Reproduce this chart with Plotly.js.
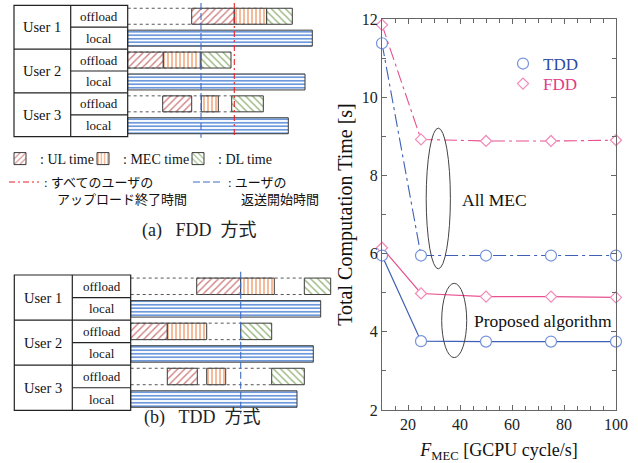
<!DOCTYPE html>
<html><head><meta charset="utf-8">
<script src="https://cdn.plot.ly/plotly-3.0.1.min.js"></script>
<style>html,body{margin:0;padding:0;background:#fff}#chart{width:638px;height:463px}</style>
</head><body><div id="chart"></div>
<script>
// ---------- Right chart data ----------
const fMec = [10, 25, 50, 75, 100];
const tddAllMec = [11.38, 5.95, 5.95, 5.95, 5.95];
const fddAllMec = [11.85, 8.92, 8.88, 8.88, 8.90];
const tddProposed = [5.95, 3.76, 3.75, 3.75, 3.75];
const fddProposed = [6.15, 4.98, 4.90, 4.90, 4.88];

// ---------- Schedule diagrams data (time units) ----------
const users = ['User 1', 'User 2', 'User 3'];
const offloadRows = [0, 2, 4];
const localRows = [1, 3, 5];
// FDD
const fddUlStart = [6.40, 0.00, 3.50];
const fddUlEnd = [10.66, 3.56, 6.40];
const fddMecStart = [10.66, 3.56, 7.36];
const fddMecEnd = [13.90, 7.33, 9.06];
const fddDlStart = [13.90, 7.33, 10.40];
const fddDlEnd = [16.46, 10.33, 13.56];
const fddLocal = [18.46, 17.73, 16.06];
const fddUploadEnd = 10.66;
const fddReturnStart = 7.33;
// TDD
const tddUlStart = [6.60, 0.00, 3.66];
const tddUlEnd = [11.00, 3.66, 6.66];
const tddMecStart = [11.00, 3.66, 7.60];
const tddMecEnd = [14.36, 7.60, 9.50];
const tddDlStart = [17.36, 11.00, 14.10];
const tddDlEnd = [20.00, 14.10, 17.36];
const tddLocal = [19.00, 18.26, 16.63];
const tddReturnStart = 11.00;

// ---------- styles ----------
const SERIF = '"Liberation Serif", "Times New Roman", serif';
const JP = '"Liberation Serif", "Noto Sans CJK JP", serif';
const TDD_LINE = '#3d5fb6', TDD_MK = '#7592dc', TDD_TXT = '#2c4ca3';
const FDD_LINE = '#e8508e', FDD_MK = '#f28ab9', FDD_TXT = '#e33a8a';
const BORDER = '#3a3a3a';
const BAR_W = 0.73;
const PAT = {
  ul: {shape: '/', fgcolor: '#cf8080', bgcolor: 'white', size: 5, solidity: 0.28},
  mec: {shape: '|', fgcolor: '#f0a070', bgcolor: 'white', size: 4, solidity: 0.35},
  dl: {shape: '\\', fgcolor: '#95b57a', bgcolor: 'white', size: 5, solidity: 0.28},
  local: {shape: '-', fgcolor: '#5e8fd8', bgcolor: 'white', size: 3.5, solidity: 0.45}
};
const diff = (a, b) => a.map((v, i) => v - b[i]);
const zeros = n => new Array(n).fill(0);

function diagramTraces(xa, ya, d, withLegend) {
  const tr = [];
  // waiting dashed lines (top & bottom of offload row, from 0 to DL start)
  const wx = [], wy = [];
  offloadRows.forEach((r, i) => {
    [-BAR_W / 2, BAR_W / 2].forEach(off => {
      wx.push(0, d.dlStart[i], null);
      wy.push(r + off, r + off, null);
    });
  });
  tr.push({type: 'scatter', mode: 'lines', x: wx, y: wy, xaxis: xa, yaxis: ya,
    line: {color: '#555', width: 1, dash: '3px,3px'}, showlegend: false, hoverinfo: 'skip'});
  const mk = (p) => ({color: 'white', pattern: p, line: {color: BORDER, width: 1}});
  tr.push({type: 'bar', orientation: 'h', xaxis: xa, yaxis: ya, y: offloadRows,
    base: d.ulStart, x: diff(d.ulEnd, d.ulStart), width: BAR_W, marker: mk(PAT.ul),
    name: ': UL time', legend: 'legend2', showlegend: withLegend, hoverinfo: 'skip'});
  tr.push({type: 'bar', orientation: 'h', xaxis: xa, yaxis: ya, y: offloadRows,
    base: d.mecStart, x: diff(d.mecEnd, d.mecStart), width: BAR_W, marker: mk(PAT.mec),
    name: ': MEC time', legend: 'legend4', showlegend: withLegend, hoverinfo: 'skip'});
  tr.push({type: 'bar', orientation: 'h', xaxis: xa, yaxis: ya, y: offloadRows,
    base: d.dlStart, x: diff(d.dlEnd, d.dlStart), width: BAR_W, marker: mk(PAT.dl),
    name: ': DL time', legend: 'legend5', showlegend: withLegend, hoverinfo: 'skip'});
  tr.push({type: 'bar', orientation: 'h', xaxis: xa, yaxis: ya, y: localRows,
    base: zeros(3), x: d.local, width: BAR_W, marker: mk(PAT.local),
    showlegend: false, hoverinfo: 'skip'});
  if (d.uploadEnd !== undefined) {
    tr.push({type: 'scatter', mode: 'lines', xaxis: xa, yaxis: ya,
      x: [d.uploadEnd, d.uploadEnd], y: d.vExtent,
      line: {color: '#e8202a', width: 1.1, dash: '6px,3px,2px,3px'},
      name: ': すべてのユーザの<br>\u3000アップロード終了時間', legend: 'legend3',
      showlegend: withLegend, hoverinfo: 'skip'});
  }
  tr.push({type: 'scatter', mode: 'lines', xaxis: xa, yaxis: ya,
    x: [d.returnStart, d.returnStart], y: d.vExtent,
    line: {color: '#3f6cc4', width: 1.1, dash: '7px,3px'},
    name: ': ユーザの<br>\u3000返送開始時間', legend: 'legend6',
    showlegend: withLegend, hoverinfo: 'skip'});
  return tr;
}

const fdd = {ulStart: fddUlStart, ulEnd: fddUlEnd, mecStart: fddMecStart, mecEnd: fddMecEnd,
  dlStart: fddDlStart, dlEnd: fddDlEnd, local: fddLocal, uploadEnd: fddUploadEnd,
  returnStart: fddReturnStart, vExtent: [-0.6, 5.55]};
const tdd = {ulStart: tddUlStart, ulEnd: tddUlEnd, mecStart: tddMecStart, mecEnd: tddMecEnd,
  dlStart: tddDlStart, dlEnd: tddDlEnd, local: tddLocal,
  returnStart: tddReturnStart, vExtent: [-0.65, 5.65]};

// ---------- main chart traces ----------
const tddMarker = {symbol: 'circle', size: 11, color: 'white', line: {color: TDD_MK, width: 1.2}};
const fddMarker = {symbol: 'diamond', size: 8.5, color: 'white', line: {color: FDD_MK, width: 1.2}};
const DASHDOT = '13px,4px,3px,4px';
const mainTraces = [
  {x: fMec, y: tddAllMec, mode: 'lines+markers', line: {color: TDD_LINE, width: 1.1, dash: DASHDOT},
    marker: tddMarker, cliponaxis: false, showlegend: false},
  {x: fMec, y: fddAllMec, mode: 'lines+markers', line: {color: FDD_LINE, width: 1.1, dash: DASHDOT},
    marker: fddMarker, cliponaxis: false, showlegend: false},
  {x: fMec, y: fddProposed, mode: 'lines+markers', line: {color: FDD_LINE, width: 1.2},
    marker: fddMarker, cliponaxis: false, showlegend: false},
  {x: fMec, y: tddProposed, mode: 'lines+markers', line: {color: TDD_LINE, width: 1.2},
    marker: tddMarker, cliponaxis: false, showlegend: false},
  {x: [null], y: [null], mode: 'markers', marker: tddMarker,
    name: '<span style="color:' + TDD_TXT + '">TDD</span>', legend: 'legend'},
  {x: [null], y: [null], mode: 'markers', marker: fddMarker,
    name: '<span style="color:' + FDD_TXT + '">FDD</span>', legend: 'legend7'}
];

const data = mainTraces.concat(diagramTraces('x2', 'y2', fdd, true), diagramTraces('x3', 'y3', tdd, false));

// ---------- table shapes & texts ----------
function tableShapes(xref, yref, xL, xD, xR) {
  const ln = {color: '#222', width: 1.2};
  const s = [{type: 'rect', xref, yref, x0: xL, x1: xR, y0: -0.5, y1: 5.5, line: ln}];
  s.push({type: 'line', xref, yref, x0: xD, x1: xD, y0: -0.5, y1: 5.5, line: ln});
  [1.5, 3.5].forEach(y => s.push({type: 'line', xref, yref, x0: xL, x1: xR, y0: y, y1: y, line: ln}));
  [0.5, 2.5, 4.5].forEach(y => s.push({type: 'line', xref, yref, x0: xD, x1: xR, y0: y, y1: y, line: ln}));
  return s;
}
function tableTexts(xref, yref, xL, xD, xR) {
  const a = [];
  users.forEach((u, i) => {
    a.push({xref, yref, x: (xL + xD) / 2, y: 2 * i + 0.5, text: u, showarrow: false,
      font: {family: SERIF, size: 14.5, color: '#111'}});
    a.push({xref, yref, x: (xD + xR) / 2, y: 2 * i, text: 'offload', showarrow: false,
      font: {family: SERIF, size: 13, color: '#111'}});
    a.push({xref, yref, x: (xD + xR) / 2, y: 2 * i + 1, text: 'local', showarrow: false,
      font: {family: SERIF, size: 13, color: '#111'}});
  });
  return a;
}

const shapes = [].concat(
  tableShapes('x2', 'y2', -11.37, -5.70, 0),
  tableShapes('x3', 'y3', -11.64, -5.84, 0),
  [
    {type: 'circle', xref: 'x', yref: 'y', x0: 27.0, x1: 36.3, y0: 5.61, y1: 9.21, line: {color: '#444', width: 1}},
    {type: 'circle', xref: 'x', yref: 'y', x0: 32.96, x1: 42.58, y0: 3.34, y1: 5.24, line: {color: '#444', width: 1}}
  ]
);

const annotations = [].concat(
  tableTexts('x2', 'y2', -11.37, -5.70, 0),
  tableTexts('x3', 'y3', -11.64, -5.84, 0),
  [
    {xref: 'paper', yref: 'paper', x: 139.5 / 638, y: 1 - 230 / 463, text: '(a)\u00a0\u00a0\u00a0FDD\u00a0\u00a0方式',
      showarrow: false, font: {family: JP, size: 18, color: '#222'}},
    {xref: 'paper', yref: 'paper', x: 141.5 / 638, y: 1 - 430 / 463, text: '(b)\u00a0\u00a0\u00a0TDD\u00a0\u00a0方式',
      showarrow: false, font: {family: JP, size: 18, color: '#222'}},
    {xref: 'x', yref: 'y', x: 53.1, y: 7.37, text: 'All MEC', showarrow: false,
      font: {family: SERIF, size: 17.5, color: '#111'}},
    {xref: 'x', yref: 'y', x: 71.9, y: 4.28, text: 'Proposed algorithm', showarrow: false,
      font: {family: SERIF, size: 17.5, color: '#111'}}
  ]
);

const axisCommon = {showline: true, mirror: 'ticks', linecolor: '#666', linewidth: 1,
  ticks: 'inside', ticklen: 5, tickcolor: '#666', showgrid: false, zeroline: false,
  tickfont: {family: SERIF, size: 16, color: '#222'}};
const hidden = {visible: false, showgrid: false, zeroline: false, fixedrange: true};
const legendBase = {bgcolor: 'rgba(0,0,0,0)', borderwidth: 0, itemclick: false, itemdoubleclick: false,
  xanchor: 'left', yanchor: 'top', orientation: 'h', itemwidth: 30};
const mainLegend = {bgcolor: 'rgba(0,0,0,0)', borderwidth: 0, xanchor: 'left', yanchor: 'top',
  font: {family: SERIF, size: 17}, itemclick: false, itemdoubleclick: false, x: 503 / 638};

const layout = {
  width: 638, height: 463,
  margin: {l: 0, r: 0, t: 0, b: 0},
  paper_bgcolor: 'white', plot_bgcolor: 'white',
  barmode: 'overlay',
  xaxis: Object.assign({}, axisCommon, {
    domain: [382 / 638, 616 / 638], range: [10, 100], tick0: 0, dtick: 20,
    minor: {dtick: 5, ticks: 'inside', ticklen: 4, tickcolor: '#666'},
    title: {text: '<i>F</i><sub>MEC</sub> [GCPU cycle/s]', font: {family: SERIF, size: 18, color: '#111'}, standoff: 14}
  }),
  yaxis: Object.assign({}, axisCommon, {
    domain: [1 - 410 / 463, 1 - 19 / 463], range: [2, 12], dtick: 2,
    minor: {dtick: 1, ticks: 'inside', ticklen: 4, tickcolor: '#666'},
    title: {text: '\u00a0'.repeat(12) + 'Total Computation Time [s]', font: {family: SERIF, size: 20, color: '#111'}, standoff: 3}
  }),
  xaxis2: Object.assign({}, hidden, {domain: [10 / 638, 340 / 638], range: [-11.77, 21.23], anchor: 'y2'}),
  yaxis2: Object.assign({}, hidden, {domain: [1 - 140 / 463, 1 - 2 / 463], range: [5.651, -0.651], anchor: 'x2'}),
  xaxis3: Object.assign({}, hidden, {domain: [10 / 638, 340 / 638], range: [-12.07, 20.93], anchor: 'y3'}),
  yaxis3: Object.assign({}, hidden, {domain: [1 - 416 / 463, 1 - 268 / 463], range: [5.7517, -0.8115], anchor: 'x3'}),
  legend: Object.assign({}, mainLegend, {y: 1 - 46 / 463}),
  legend7: Object.assign({}, mainLegend, {y: 1 - 66 / 463}),
  legend2: Object.assign({}, legendBase, {x: 0 / 638, y: 1 - 143 / 463, font: {family: SERIF, size: 14, color: '#111'}}),
  legend4: Object.assign({}, legendBase, {x: 83 / 638, y: 1 - 143 / 463, font: {family: SERIF, size: 14, color: '#111'}}),
  legend5: Object.assign({}, legendBase, {x: 178 / 638, y: 1 - 143 / 463, font: {family: SERIF, size: 14, color: '#111'}}),
  legend3: Object.assign({}, legendBase, {x: 4 / 638, y: 1 - 167 / 463, valign: 'top', font: {family: JP, size: 13, color: '#111'}}),
  legend6: Object.assign({}, legendBase, {x: 188 / 638, y: 1 - 167 / 463, valign: 'top', font: {family: JP, size: 13, color: '#111'}}),
  shapes: shapes,
  annotations: annotations,
  showlegend: true
};

Plotly.newPlot('chart', data, layout, {staticPlot: true, displayModeBar: false});
</script>
</body></html>
